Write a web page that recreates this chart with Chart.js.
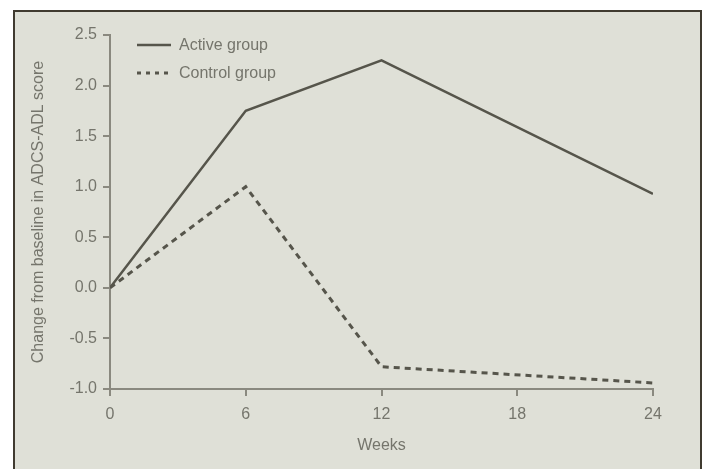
<!DOCTYPE html>
<html>
<head>
	<title>Change from baseline in ADCS-ADL score</title>
	<meta charset="utf-8" />
	<script src="https://cdn.jsdelivr.net/npm/chart.js@4.4.1/dist/chart.umd.min.js"></script>
	<style>
		html, body { margin: 0; padding: 0; background: #ffffff; }
		#wrap { position: absolute; left: 0; top: 0; width: 705px; height: 469px; }
	</style>
</head>
<body>

<div id="wrap"><canvas id="myChart" width="705" height="469"></canvas></div>

<script type="text/javascript">
// data
var weeks        = [0, 6, 12, 24];
var activeGroup  = [0, 1.75, 2.25, 0.93];
var controlGroup = [0, 1.0, -0.78, -0.94];
var xTicks = [0, 6, 12, 18, 24];
var yTicks = [-1.0, -0.5, 0.0, 0.5, 1.0, 1.5, 2.0, 2.5];
var seriesNames = ['Active group', 'Control group'];

var inkColor  = '#56554b';
var textColor = '#75756c';
var axisColor = '#8a897f';
var fontFam = '"Liberation Sans", Arial, Helvetica, sans-serif';

function toPoints(xs, ys) {
	var pts = [];
	for (var i = 0; i < xs.length; i++) pts.push({x: xs[i], y: ys[i]});
	return pts;
}

// grey panel with dark frame behind the chart
var framePlugin = {
	id: 'frame',
	beforeDraw: function (chart) {
		var ctx = chart.ctx;
		ctx.save();
		ctx.fillStyle = '#ffffff';
		ctx.fillRect(0, 0, chart.width, chart.height);
		ctx.fillStyle = '#dfe0d7';
		ctx.fillRect(13, 10, 689, chart.height - 10);
		ctx.strokeStyle = '#403b30';
		ctx.lineWidth = 2;
		ctx.beginPath();
		ctx.moveTo(14, chart.height);
		ctx.lineTo(14, 11);
		ctx.lineTo(701, 11);
		ctx.lineTo(701, chart.height);
		ctx.stroke();
		ctx.restore();
	}
};

// legend drawn inside the plot, top left
var legendPlugin = {
	id: 'innerLegend',
	afterDraw: function (chart) {
		var ctx = chart.ctx;
		var rows = [45, 73];
		ctx.save();
		chart.data.datasets.forEach(function (ds, i) {
			ctx.strokeStyle = ds.borderColor;
			ctx.lineWidth = ds.borderWidth;
			ctx.setLineDash(i === 1 ? [4, 5] : []);
			ctx.beginPath();
			ctx.moveTo(137, rows[i]);
			ctx.lineTo(171, rows[i]);
			ctx.stroke();
			ctx.setLineDash([]);
			ctx.fillStyle = textColor;
			ctx.font = '16px ' + fontFam;
			ctx.textBaseline = 'middle';
			ctx.fillText(ds.label, 179, rows[i] + 1);
		});
		ctx.restore();
	}
};

var ctx = document.getElementById('myChart').getContext('2d');
var chart = new Chart(ctx, {
	type: 'line',
	data: {
		datasets: [
			{
				label: seriesNames[0],
				data: toPoints(weeks, activeGroup),
				borderColor: inkColor,
				borderWidth: 2.5,
				pointRadius: 0,
				fill: false,
				tension: 0
			},
			{
				label: seriesNames[1],
				data: toPoints(weeks, controlGroup),
				borderColor: inkColor,
				borderWidth: 3,
				borderDash: [6, 5],
				pointRadius: 0,
				fill: false,
				tension: 0
			}
		]
	},
	options: {
		responsive: false,
		animation: false,
		layout: { padding: { left: 0, right: 52, top: 35, bottom: 0 } },
		plugins: {
			legend: { display: false },
			tooltip: { enabled: false }
		},
		scales: {
			x: {
				type: 'linear',
				min: 0,
				max: 24,
				afterFit: function (s) { s.height = 80; },
				afterBuildTicks: function (s) { s.ticks = xTicks.map(function (v) { return {value: v}; }); },
				grid: { drawOnChartArea: false, drawTicks: true, tickLength: 7, color: axisColor, lineWidth: 2 },
				border: { display: true, color: axisColor, width: 2 },
				ticks: { color: textColor, font: { size: 16, family: fontFam }, padding: 9, maxRotation: 0 },
				title: { display: true, text: 'Weeks', color: textColor, font: { size: 16, family: fontFam }, padding: { top: 0, bottom: 14 } }
			},
			y: {
				min: -1,
				max: 2.5,
				afterFit: function (s) { s.width = 110; },
				afterBuildTicks: function (s) { s.ticks = yTicks.map(function (v) { return {value: v}; }); },
				grid: { drawOnChartArea: false, drawTicks: true, tickLength: 7, color: axisColor, lineWidth: 2 },
				border: { display: true, color: axisColor, width: 2 },
				ticks: {
					color: textColor,
					font: { size: 16, family: fontFam },
					padding: 6,
					callback: function (v) { return Number(v).toFixed(1); }
				},
				title: { display: true, text: 'Change from baseline in ADCS-ADL score', color: textColor, font: { size: 16, family: fontFam }, padding: { top: 29, bottom: 0 } }
			}
		}
	},
	plugins: [framePlugin, legendPlugin]
});
</script>
</body>
</html>
